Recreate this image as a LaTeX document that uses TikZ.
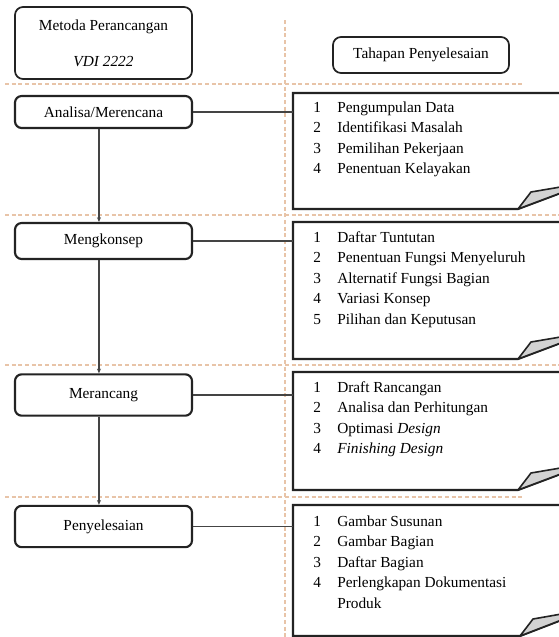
\documentclass[tikz,border=0pt]{standalone}
\usepackage{fontspec}
\setmainfont{Liberation Serif}
\usetikzlibrary{arrows.meta}
\definecolor{guide}{RGB}{232,196,168}
\definecolor{edge}{RGB}{35,35,35}
\begin{document}
\begin{tikzpicture}[x=0.75pt,y=-0.75pt,
  stage/.style={draw=edge, line width=1.6pt, rounded corners=5pt, fill=white,
    minimum width=132.75pt, inner sep=0pt, align=center,
    font=\fontsize{11.5}{15}\selectfont},
  headbox/.style={draw=edge, line width=1.3pt, rounded corners=6pt, fill=white,
    inner sep=0pt, align=center, font=\fontsize{11.5}{15}\selectfont},
  guideline/.style={draw=guide, dash pattern=on 3pt off 2pt, line width=0.9pt},
  panel/.style={draw=edge, line width=1.6pt, fill=white, line join=miter},
  flap/.style={draw=edge, line width=1.2pt, fill=gray!35, line join=round},
  link/.style={draw=edge!85, line width=0.9pt},
  flow/.style={link, -{Stealth[length=3.5pt,width=3pt]}},
  steps/.style={anchor=base west, inner sep=0pt, font=\fontsize{11.5}{15.4}\selectfont}
]
\useasboundingbox (0,0) rectangle (559,637);
\clip (0,0) rectangle (559,637);
\fill[white] (0,0) rectangle (559,637);

% guide lines
\draw[guideline] (285,20) -- (285,637);
\draw[guideline] (5,84) -- (523,84);
\draw[guideline] (5,215) -- (559,215);
\draw[guideline] (5,365) -- (559,365);
\draw[guideline] (5,497) -- (523,497);

% left column
\node[headbox, minimum width=132.75pt, minimum height=54pt] (meta) at (103.5,43)
  {Metoda Perancangan\\[12pt]\textit{VDI 2222}};
\node[headbox, minimum width=132pt, minimum height=27pt] (tahapan) at (421,55)
  {Tahapan Penyelesaian};

\node[stage, minimum height=24pt] (analisa) at (103.5,112) {Analisa/Merencana};
\node[stage, minimum height=27pt] (mengkonsep) at (103.5,241) {Mengkonsep};
\node[stage, minimum height=31pt] (merancang) at (103.5,395) {Merancang};
\node[stage, minimum height=31pt] (penyelesaian) at (103.5,526.5) {Penyelesaian};

% panels
\coordinate (p1) at (293,113);
\coordinate (p2) at (293,242);
\coordinate (p3) at (293,392);
\coordinate (p4) at (293,522);

\draw[panel] (293,93) -- (590,93) -- (590,182) -- (518,209) -- (293,209) -- cycle;
\draw[flap] (518,209) -- (531,192) -- (590,182) -- cycle;
\draw[panel] (293,222) -- (590,222) -- (590,332) -- (518,359) -- (293,359) -- cycle;
\draw[flap] (518,359) -- (531,342) -- (590,332) -- cycle;
\draw[panel] (293,372) -- (590,372) -- (590,463) -- (518,490) -- (293,490) -- cycle;
\draw[flap] (518,490) -- (531,473) -- (590,463) -- cycle;
\draw[panel] (293,505) -- (590,505) -- (590,609) -- (520,636) -- (293,636) -- cycle;
\draw[flap] (520,636) -- (533,619) -- (590,609) -- cycle;

\node[steps] (s1) at (313,112) {\begin{tabular}[t]{@{}p{18pt}@{}l@{}}
1 & Pengumpulan Data\\
2 & Identifikasi Masalah\\
3 & Pemilihan Pekerjaan\\
4 & Penentuan Kelayakan
\end{tabular}};
\node[steps] (s2) at (313,242) {\begin{tabular}[t]{@{}p{18pt}@{}l@{}}
1 & Daftar Tuntutan\\
2 & Penentuan Fungsi Menyeluruh\\
3 & Alternatif Fungsi Bagian\\
4 & Variasi Konsep\\
5 & Pilihan dan Keputusan
\end{tabular}};
\node[steps] (s3) at (313,392) {\begin{tabular}[t]{@{}p{18pt}@{}l@{}}
1 & Draft Rancangan\\
2 & Analisa dan Perhitungan\\
3 & Optimasi \textit{Design}\\
4 & \textit{Finishing Design}
\end{tabular}};
\node[steps] (s4) at (313,526) {\begin{tabular}[t]{@{}p{18pt}@{}l@{}}
1 & Gambar Susunan\\
2 & Gambar Bagian\\
3 & Daftar Bagian\\
4 & Perlengkapan Dokumentasi\\
  & Produk
\end{tabular}};

% connectors
\draw[flow] ([xshift=-3.4pt]analisa.south) -- ([xshift=-3.4pt]mengkonsep.north);
\draw[flow] ([xshift=-3.4pt]mengkonsep.south) -- ([xshift=-3.4pt]merancang.north);
\draw[flow] ([xshift=-3.4pt]merancang.south) -- ([xshift=-3.4pt]penyelesaian.north);
\draw[link] (analisa.east) -- (analisa.east -| p1);
\draw[link] (mengkonsep.east) -- (mengkonsep.east -| p2);
\draw[link] (merancang.east) -- (merancang.east -| p3);
\draw[link] (penyelesaian.east) -- (penyelesaian.east -| p4);
\end{tikzpicture}
\end{document}
